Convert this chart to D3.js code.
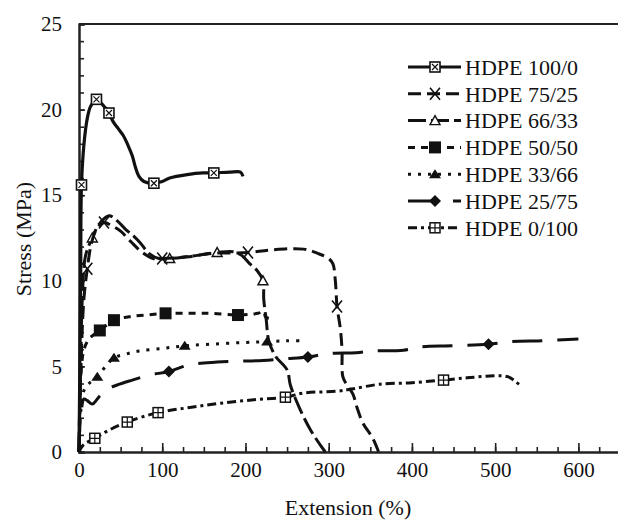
<!DOCTYPE html>
<html>
<head>
<meta charset="utf-8">
<script src="https://cdn.jsdelivr.net/npm/d3@7"></script>
<style>
  html, body { margin: 0; padding: 0; background: #fff; }
  svg { display: block; }
</style>
</head>
<body>
<svg id="chart" width="618" height="522"></svg>
<script>
// Stress–strain curves of HDPE blends: [extension %, stress MPa]
const hdpe100_0 = [[0,0],[1,5],[2,10],[3,15.6],[6,18],[10,19.5],[14,20.2],[21,20.6],[28,20.3],[36,19.8],[41,19.3],[47,18.9],[53,18.5],[59,17.9],[64,17.3],[68,16.6],[72,16.1],[78,15.8],[90,15.7],[100,15.8],[109,16.0],[130,16.2],[149,16.3],[162,16.3],[181,16.35],[194,16.35],[197,16.1]];
const hdpe75_25 = [[0,0],[3,6],[6,9],[10,10.7],[15,12.2],[22,13.1],[30,13.4],[40,13.2],[50,12.9],[62,12.3],[75,11.7],[89,11.3],[100,11.3],[130,11.4],[160,11.6],[203,11.65],[230,11.8],[270,11.85],[287,11.6],[300,11.3],[305,11.0],[308,10.0],[310,8.5],[314,7.2],[316,6.0],[317,4.4],[322,3.9],[329,3.4],[334,2.6],[341,1.7],[353,0.8],[360,0]];
const hdpe66_33 = [[0,0],[2,5],[4,9],[8,11.5],[16,12.5],[24,13.3],[36,13.8],[46,13.5],[56,13.0],[66,12.6],[74,12.2],[84,11.6],[96,11.3],[109,11.3],[130,11.4],[166,11.65],[185,11.7],[195,11.5],[205,11.0],[214,10.6],[221,10.0],[222,8.9],[225,7.7],[228,6.5],[236,5.6],[250,4.8],[254,3.9],[266,2.45],[278,1.3],[290,0.4],[296,0]];
const hdpe50_50 = [[0,0],[1,3],[3,5],[6,6],[12,6.6],[25,7.1],[42,7.7],[60,7.9],[80,8.0],[104,8.1],[140,8.1],[160,8.1],[191,8.0],[215,8.1],[222,8.2],[224,7.9],[228,7.8]];
const hdpe33_66 = [[0,0],[1,1.5],[3,2.8],[6,3.6],[12,4.0],[22,4.4],[32,5.0],[42,5.5],[55,5.7],[72,5.9],[100,6.05],[127,6.2],[160,6.3],[200,6.4],[226,6.45],[250,6.5],[268,6.5]];
const hdpe25_75 = [[0,0],[1,1.5],[3,2.5],[6,3.1],[10,3.0],[16,2.8],[22,3.1],[31,3.6],[45,3.9],[64,4.2],[85,4.5],[108,4.7],[133,5.1],[166,5.25],[190,5.3],[221,5.35],[250,5.45],[275,5.55],[300,5.75],[333,5.8],[353,5.9],[390,5.95],[412,6.15],[448,6.2],[492,6.3],[520,6.45],[558,6.5],[600,6.6]];
const hdpe0_100 = [[0,0],[5,0.4],[19,0.8],[35,1.25],[58,1.75],[95,2.3],[133,2.6],[170,2.85],[210,3.05],[248,3.2],[270,3.45],[310,3.55],[330,3.7],[360,3.95],[400,4.05],[438,4.2],[470,4.35],[500,4.45],[515,4.4],[525,4.1],[532,3.8]];

// Indices of the points that carry a marker symbol
const marks100_0 = [3,7,9,18,23];
const marks75_25 = [3,6,12,15,22];
const marks66_33 = [4,13,15,20];
const marks50_50 = [5,6,9,12];
const marks33_66 = [5,7,11,14];
const marks25_75 = [11,17,24];
const marks0_100 = [2,4,5,9,15];

const seriesNames = ["HDPE 100/0","HDPE 75/25","HDPE 66/33","HDPE 50/50","HDPE 33/66","HDPE 25/75","HDPE 0/100"];
const xTickLabels = [0,100,200,300,400,500,600];
const yTickLabels = [0,5,10,15,20,25];

const series = [
  {name: seriesNames[0], data: hdpe100_0, marks: marks100_0, dash: null, sym: "sqx"},
  {name: seriesNames[1], data: hdpe75_25, marks: marks75_25, dash: "13,6", sym: "x"},
  {name: seriesNames[2], data: hdpe66_33, marks: marks66_33, dash: "18,5", sym: "tri"},
  {name: seriesNames[3], data: hdpe50_50, marks: marks50_50, dash: "7,6", sym: "sqf"},
  {name: seriesNames[4], data: hdpe33_66, marks: marks33_66, dash: "3,7", sym: "trif"},
  {name: seriesNames[5], data: hdpe25_75, marks: marks25_75, dash: "30,15", sym: "dia"},
  {name: seriesNames[6], data: hdpe0_100, marks: marks0_100, dash: "9,4,3,4", sym: "sqp"}
];

const FONT = "Liberation Serif";

const svg = d3.select("#chart");
const x = d3.scaleLinear().domain([0, 650]).range([79, 620]);
const y = d3.scaleLinear().domain([0, 25]).range([452, 24]);

// Frame: top border
svg.append("line").attr("x1", x(0)).attr("x2", x(650)).attr("y1", y(25)).attr("y2", y(25))
  .attr("stroke", "#222").attr("stroke-width", 2);

// X axis: major ticks every 100 with labels, minor every 25
const xMinor = d3.axisBottom(x).tickValues(d3.range(0, 651, 25)).tickSize(-5).tickFormat("");
const xMajor = d3.axisBottom(x).tickValues(xTickLabels).tickSize(-9).tickPadding(16).tickFormat(d3.format("d"));
const gxm = svg.append("g").attr("transform", `translate(0,${y(0)})`).call(xMinor);
const gx = svg.append("g").attr("transform", `translate(0,${y(0)})`).call(xMajor);
[gxm, gx].forEach(g => {
  g.select(".domain").attr("stroke", "#222").attr("stroke-width", 2);
  g.selectAll(".tick line").attr("stroke", "#222").attr("stroke-width", 1.6);
});
gx.selectAll(".tick text").style("font-family", FONT).attr("font-size", 21).attr("fill", "#111").attr("dy", "0.45em");

// Y axis: ticks every 1 MPa, labels every 5
const yMinor = d3.axisLeft(y).tickValues(d3.range(0, 26, 1)).tickSize(-5).tickFormat("");
const yMajor = d3.axisLeft(y).tickValues(yTickLabels).tickSize(-6).tickPadding(17).tickFormat(d3.format("d"));
const gym = svg.append("g").attr("transform", `translate(${x(0)},0)`).call(yMinor);
const gy = svg.append("g").attr("transform", `translate(${x(0)},0)`).call(yMajor);
[gym, gy].forEach(g => {
  g.select(".domain").attr("stroke", "#222").attr("stroke-width", 2);
  g.selectAll(".tick line").attr("stroke", "#222").attr("stroke-width", 1.6);
});
gy.selectAll(".tick text").style("font-family", FONT).attr("font-size", 21).attr("fill", "#111");

// Axis titles
svg.append("text").attr("x", 348).attr("y", 515).attr("text-anchor", "middle")
  .style("font-family", FONT).attr("font-size", 22).attr("fill", "#111").text("Extension (%)");
svg.append("text").attr("transform", "translate(31,239) rotate(-90)").attr("text-anchor", "middle")
  .style("font-family", FONT).attr("font-size", 22).attr("fill", "#111").text("Stress (MPa)");

// Marker symbols
function drawSymbol(g, sym) {
  const s = 5;
  if (sym === "sqx") {
    g.append("rect").attr("x", -s).attr("y", -s).attr("width", 2*s).attr("height", 2*s)
      .attr("fill", "#fff").attr("stroke", "#111").attr("stroke-width", 1.6);
    g.append("path").attr("d", `M${-s+2},${-s+2}L${s-2},${s-2}M${-s+2},${s-2}L${s-2},${-s+2}`)
      .attr("stroke", "#111").attr("stroke-width", 1.2);
  } else if (sym === "sqp") {
    g.append("rect").attr("x", -s).attr("y", -s).attr("width", 2*s).attr("height", 2*s)
      .attr("fill", "#fff").attr("stroke", "#111").attr("stroke-width", 1.5);
    g.append("path").attr("d", `M${-s},0L${s},0M0,${-s}L0,${s}`)
      .attr("stroke", "#111").attr("stroke-width", 1.2);
  } else if (sym === "x") {
    g.append("path").attr("d", `M-5,-6L5,6M-5,6L5,-6`).attr("stroke", "#111").attr("stroke-width", 1.6);
  } else if (sym === "tri") {
    g.append("path").attr("d", "M0,-5L5,4L-5,4Z").attr("fill", "#fff").attr("stroke", "#111").attr("stroke-width", 1.4);
  } else if (sym === "trif") {
    g.append("path").attr("d", "M0,-5L6,4L-6,4Z").attr("fill", "#111");
  } else if (sym === "sqf") {
    g.append("rect").attr("x", -6).attr("y", -6).attr("width", 12).attr("height", 12).attr("fill", "#111");
  } else if (sym === "dia") {
    g.append("path").attr("d", "M0,-6L6,0L0,6L-6,0Z").attr("fill", "#111");
  }
}

const line = d3.line().x(d => x(d[0])).y(d => y(d[1])).curve(d3.curveCatmullRom.alpha(0.5));

// Curves, drawn from the lowest series upward
series.slice().reverse().forEach(sr => {
  svg.append("path").datum(sr.data).attr("d", line)
    .attr("fill", "none").attr("stroke", "#111")
    .attr("stroke-width", sr.dash ? 3 : 3.2)
    .attr("stroke-dasharray", sr.dash)
    .attr("stroke-linejoin", "round");
  sr.marks.forEach(i => {
    const d = sr.data[i];
    const g = svg.append("g").attr("transform", `translate(${x(d[0])},${y(d[1])})`);
    drawSymbol(g, sr.sym);
  });
});

// Legend
const legend = svg.append("g");
series.forEach((sr, i) => {
  const ly = 67 + i * 26.8;
  legend.append("line").attr("x1", 408).attr("x2", 461).attr("y1", ly).attr("y2", ly)
    .attr("stroke", "#111").attr("stroke-width", 3).attr("stroke-dasharray", sr.dash);
  const g = legend.append("g").attr("transform", `translate(435,${ly})`);
  drawSymbol(g, sr.sym);
  legend.append("text").attr("x", 465).attr("y", ly).attr("dy", "0.35em")
    .style("font-family", FONT).attr("font-size", 22).attr("fill", "#111").text(sr.name);
});
</script>
</body>
</html>
